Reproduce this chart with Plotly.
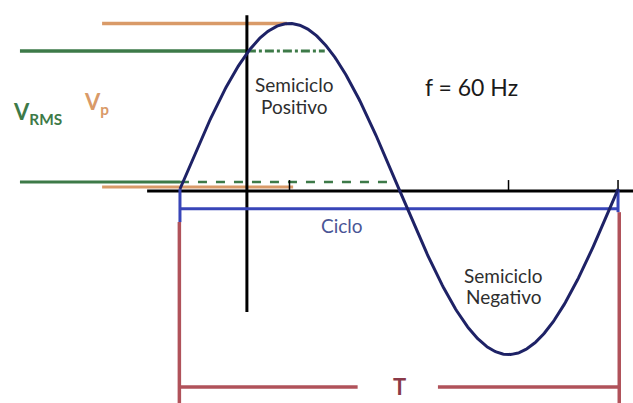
import numpy as np
import plotly.graph_objects as go

# ---- chart values (time in degrees of one cycle, voltage normalised to Vp) ----
period_deg = 360          # one cycle T
peak_v = 1.0              # Vp
rms_level = 0.834         # V_RMS line as drawn
freq_label = "f = 60 Hz"
tick_positions = [90, 270, 360]
axis_cross_t = 55         # vertical axis position

FONT = "Lato"
GREEN = "#3d7a48"
ORANGE = "#d99a68"
NAVY = "#1e2266"
BLUE = "#3845b8"
RED = "#b0525a"

t = np.linspace(0, period_deg, 400)
v = peak_v * np.sin(np.radians(t))

fig = go.Figure()

def seg(x, y, color, width, dash="solid"):
    fig.add_trace(go.Scatter(x=x, y=y, mode="lines", hoverinfo="skip",
                             line=dict(color=color, width=width, dash=dash),
                             showlegend=False))

# left reference lines
seg([-64, 88], [peak_v, peak_v], ORANGE, 3.5)
seg([-131.5, axis_cross_t], [rms_level, rms_level], GREEN, 3.5)
seg([axis_cross_t, 119], [rms_level, rms_level], GREEN, 3, "dashdot")
seg([-131.5, 0], [0.042, 0.042], GREEN, 3)
seg([0, 177], [0.042, 0.042], GREEN, 2.5, "dash")
seg([-64, 93], [0.012, 0.012], ORANGE, 3)

# axes
seg([-27, 372.5], [-0.012, -0.012], "black", 3)
seg([axis_cross_t, axis_cross_t], [1.05, -0.743], "black", 3)
for tp in tick_positions:
    seg([tp, tp], [-0.012, 0.054], "black", 1.5)

# cycle marker
seg([0, period_deg], [-0.12, -0.12], BLUE, 3)
seg([0, 0], [0, -0.2], BLUE, 3)
seg([period_deg, period_deg], [0, -0.14], BLUE, 3)

# period marker
seg([-0.5, -0.5], [-0.2, -1.3], RED, 3.5)
seg([period_deg + 1, period_deg + 1], [-0.14, -1.3], RED, 3.5)
seg([-0.5, 146], [-1.196, -1.196], RED, 3.5)
seg([212, period_deg + 1], [-1.196, -1.196], RED, 3.5)

# sine wave
fig.add_trace(go.Scatter(x=t, y=v, mode="lines", hoverinfo="skip",
                         line=dict(color=NAVY, width=3), showlegend=False))

def label(x, y, text, color, size, bold=False):
    fig.add_annotation(x=x, y=y, xref="x", yref="y", text=(f"<b>{text}</b>" if bold else text),
                       showarrow=False, font=dict(family=FONT, size=size, color=color),
                       align="center", borderpad=0)

label(-116.7, 0.46, "V<sub>RMS</sub>", GREEN, 22, True)
label(-68.2, 0.52, "V<sub>p</sub>", ORANGE, 22, True)
label(93.5, 0.63, "Semiciclo", "#2e2e2e", 19)
label(93.5, 0.498, "Positivo", "#2e2e2e", 19)
label(239.2, 0.616, freq_label, "#1a1a1a", 23)
label(133.2, -0.2175, "Ciclo", "#4a5596", 19)
label(265.5, -0.52, "Semiciclo", "#2e2e2e", 19)
label(265.5, -0.652, "Negativo", "#2e2e2e", 19)
label(180, -1.196, "T", "#8a3a48", 22, True)

fig.update_layout(
    width=633, height=403, autosize=False,
    margin=dict(l=0, r=0, t=0, b=0),
    paper_bgcolor="white", plot_bgcolor="white",
    xaxis=dict(range=[-147.9, 372.3], visible=False, fixedrange=True),
    yaxis=dict(range=[-1.293, 1.142], visible=False, fixedrange=True),
    showlegend=False,
)

fig.write_html("out.html", config={"displayModeBar": False},
               post_script="document.body.style.margin='0';")
